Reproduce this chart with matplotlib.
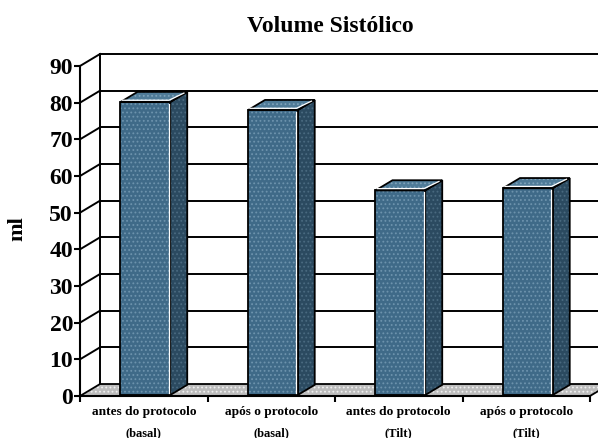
import numpy as np
import matplotlib
matplotlib.use('Agg')
import matplotlib.pyplot as plt
from matplotlib.patches import Polygon

# data
categories = ['antes do protocolo', 'após o protocolo', 'antes do protocolo', 'após o protocolo']
subgroups = ['(basal)', '(basal)', '(Tilt)', '(Tilt)']
volumes = [79.9, 77.7, 55.8, 56.4]
yticks = [0, 10, 20, 30, 40, 50, 60, 70, 80, 90]

plt.rcParams['font.family'] = ['Liberation Serif', 'DejaVu Serif']
plt.rcParams['font.weight'] = 'bold'
plt.rcParams['hatch.linewidth'] = 0.8

# oblique depth of the 3d box, in data units
DX, DY = 0.157, 3.27
z0, z1 = 0.08, 0.93      # bar front / back depth
bw = 0.39                # bar width
n = len(volumes)

front_col = '#3f6a88'
side_col = '#2b4a60'
top_col = '#4f7b98'


def P(x, y, z):
    return (x + z * DX, y + z * DY)


fig = plt.figure(figsize=(5.98, 4.38), dpi=100)
ax = fig.add_axes([80 / 598, 42 / 438, 510 / 598, 330 / 438])
ax.set_xlim(0, n)
ax.set_ylim(0, 90)

# back wall + left wall grid
for v in yticks[1:]:
    ax.plot([DX, n + DX], [v + DY, v + DY], color='black', lw=1.4, clip_on=False, zorder=1)
    ax.plot([0, DX], [v, v + DY], color='black', lw=1.4, clip_on=False, zorder=1)
ax.plot([DX, DX], [DY, 90 + DY], color='black', lw=1.4, clip_on=False, zorder=1)

# floor
floor = [P(0, 0, 0), P(n, 0, 0), P(n, 0, 1), P(0, 0, 1)]
ax.add_patch(Polygon(floor, closed=True, facecolor='#bdbdbd', edgecolor='none', clip_on=False, zorder=2))
ax.add_patch(Polygon(floor, closed=True, fill=False, hatch='....', edgecolor='#f0f0f0', lw=0, clip_on=False, zorder=2))
ax.add_patch(Polygon(floor, closed=True, fill=False, edgecolor='black', lw=1.3, clip_on=False, zorder=2))

# bars
for i, v in enumerate(volumes):
    xl = i + 0.5 - bw / 2
    xr = i + 0.5 + bw / 2
    front = [P(xl, 0, z0), P(xr, 0, z0), P(xr, v, z0), P(xl, v, z0)]
    side = [P(xr, 0, z0), P(xr, 0, z1), P(xr, v, z1), P(xr, v, z0)]
    top = [P(xl, v, z0), P(xr, v, z0), P(xr, v, z1), P(xl, v, z1)]
    for poly, col, tex in [(side, side_col, '#4a6a80'), (front, front_col, '#6d93ad'), (top, top_col, '#7ea2ba')]:
        ax.add_patch(Polygon(poly, closed=True, facecolor=col, edgecolor='none', clip_on=False, zorder=3))
        ax.add_patch(Polygon(poly, closed=True, fill=False, hatch='....', edgecolor=tex, lw=0, clip_on=False, zorder=3))
        ax.add_patch(Polygon(poly, closed=True, fill=False, edgecolor='black', lw=1.3, clip_on=False, zorder=4))
    # white highlights
    hx = P(xr - 0.012, 0, z0)[0]
    ax.plot([hx, hx], [P(0, 0.6, z0)[1], P(0, v - 0.5, z0)[1]], color='white', lw=0.9, clip_on=False, zorder=5)
    a = P(xl + 0.015, v + 0.5, z0)
    b = P(xr - 0.01, v + 0.5, z0)
    c = P(xr - 0.01, v, z1 - 0.1)
    ax.plot([a[0], b[0], c[0]], [a[1], b[1], c[1]], color='white', lw=0.9, clip_on=False, zorder=5)

# axes
for s in ['top', 'right']:
    ax.spines[s].set_visible(False)
ax.spines['left'].set_linewidth(1.5)
ax.spines['bottom'].set_linewidth(1.5)
ax.spines['left'].set_zorder(6)
ax.spines['bottom'].set_zorder(6)
ax.set_yticks(yticks)
ax.set_yticklabels([str(t) for t in yticks], fontsize=17, fontweight='bold')
ax.tick_params(axis='y', direction='out', length=4, width=1.5, pad=1)
ax.set_xticks(np.arange(n + 1))
ax.set_xticklabels([])
ax.tick_params(axis='x', direction='out', length=4, width=1.5)

for i, (c1, c2) in enumerate(zip(categories, subgroups)):
    ax.annotate(c1, xy=(i + 0.5, 0), xycoords=ax.get_xaxis_transform(),
                xytext=(0, -11.5), textcoords='offset points',
                ha='center', va='center', fontsize=9.6, fontweight='bold')
    ax.annotate(c2, xy=(i + 0.5, 0), xycoords=ax.get_xaxis_transform(),
                xytext=(0, -26.5), textcoords='offset points',
                ha='center', va='center', fontsize=9, fontweight='bold')

fig.text(330 / 598, 1 - 26 / 438, 'Volume Sistólico', ha='center', va='center',
         fontsize=17, fontweight='bold')
fig.text(17 / 598, 1 - 229 / 438, 'ml', ha='center', va='center', rotation=90,
         fontsize=16, fontweight='bold')

fig.savefig('out.png', dpi=100)
